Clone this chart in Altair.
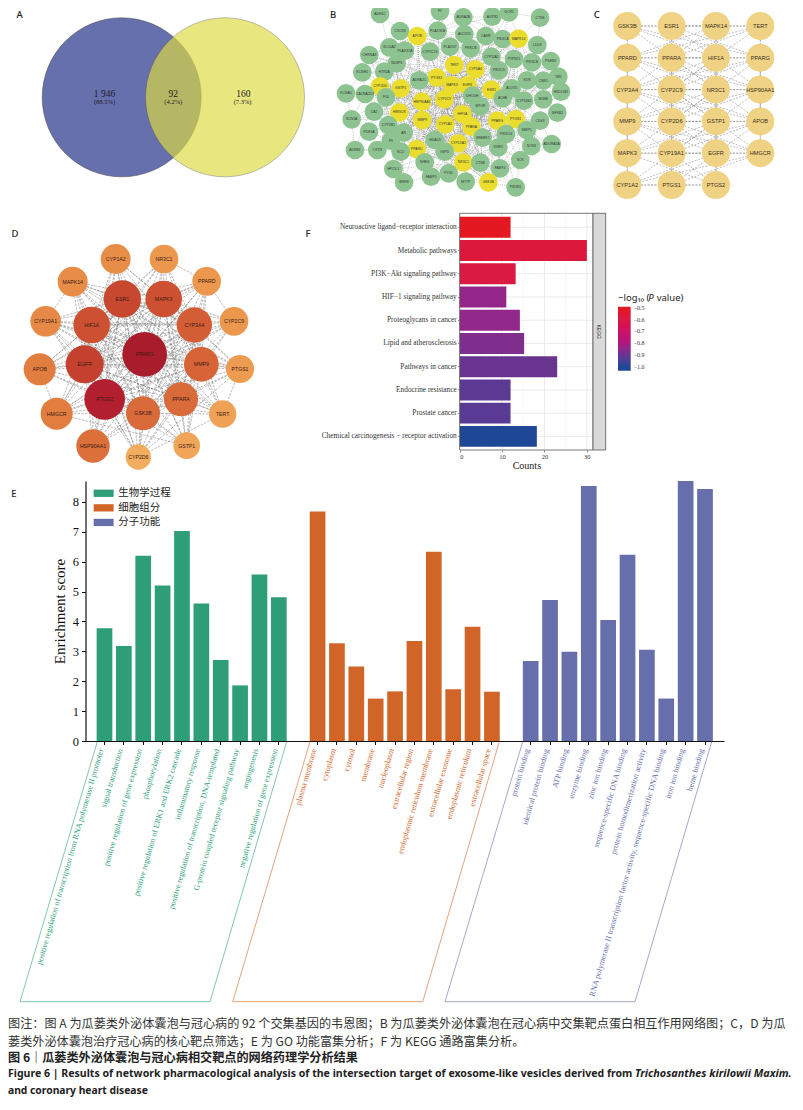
import math
import json
import altair as alt
import pandas as pd

W, H = 787, 1094
SERIF = "Liberation Serif"
SANS = "Liberation Sans"
CJK = "Noto Sans CJK SC"

# ---------- Panel A ----------
venn_x = [121.7, 225.0]
venn_y = [97.3, 97.3]
venn_labels = ["1 946", "(88.5%)", "92", "(4.2%)", "160", "(7.3%)"]
venn_lx = [104.5, 104.5, 173.3, 173.3, 243.3, 242.6]
venn_ly = [93.5, 102, 93.5, 102, 93.5, 102]
venn_fs = [9.5, 6.5, 9.5, 6.5, 9.5, 6.5]

# ---------- Panel B ----------
b_nodes = [
 ("ADH1C",150,42,0),("F2",330,34,0),("ADRA2B",400,52,0),("AGTR2",487,50,0),("GCR1",537,37,0),("CTSS",630,53,0),
 ("CXCR3",210,93,0),("APOB",262,108,1),("PLA2G1B",323,92,0),("ALOX15",403,102,0),("CASR",467,108,0),("PIK3CA",518,117,0),
 ("MAPK14",566,116,1),("LDLR",622,135,0),("SLC6A2",178,142,0),("PLA2G2A",225,152,0),("CYP2C19",300,155,0),("PLA2G7",360,140,0),
 ("PRKCB",422,145,0),("CHRNA3",118,165,0),("NLRP3",200,190,0),("CYP11A1",484,170,0),("PTPN11",552,177,0),("PIK3CB",606,187,0),
 ("PSEN2",662,183,0),("KCNH2",97,217,0),("HTR2A",163,215,0),("TERT",373,195,1),("CYP3A4",436,208,1),("PIK3CD",507,211,0),
 ("KDR",591,241,0),("CNR1",640,242,0),("TEK",685,230,0),("PTGS2",320,233,1),("ADRA2C",268,241,0),("CYP2D6",150,259,1),
 ("GSTP1",212,265,1),("MAPK3",366,256,1),("EGFR",412,256,1),("ESR1",484,269,1),("ALOX5",545,265,0),("HSD11B1",693,275,0),
 ("KCNA5",48,280,0),("CACNA2D1",105,282,0),("F10",168,292,0),("HSP90AA1",276,305,1),("CYP2C9",343,298,1),("DHODH",427,287,0),
 ("ACHE",518,295,0),("CYP11B2",582,302,0),("BCHE",640,298,0),("MTOR",451,319,0),("NFKB2",682,338,0),("CA2",132,335,0),
 ("HMGCR",208,337,1),("HIF1A",397,342,1),("MMP9",277,360,1),("PPARG",502,362,1),("PTGS1",557,357,1),("CYP1A2",346,373,1),
 ("PPARA",424,380,1),("CDK8",630,362,0),("SCN5A",65,358,0),("CYP2B1",175,375,0),("PDE5A",117,395,0),("AR",221,398,0),
 ("PIK3CG",528,402,0),("MMP1",590,390,0),("NOS3",604,438,0),("ADORA2A",665,432,0),("F9",183,422,0),("HDAC3",315,420,0),
 ("SREBF2",458,413,0),("CYP19A1",385,430,1),("IGSF2",505,442,0),("PPARD",260,447,1),("G6PD",344,455,0),("SCD",212,455,0),
 ("OXTR",142,450,0),("ADRB1",75,450,0),("SHBG",284,487,0),("NR3C1",400,487,1),("CTSB",451,488,0),("FABP4",510,505,0),
 ("SCK",571,480,0),("HPCIL1",190,507,0),("FABP3",303,530,0),("PYGL",356,520,0),("MTTP",407,545,0),("GSK3B",475,547,1),
 ("BRHS",222,547,0),("PIK3R1",557,562,0),
]

# ---------- Panel C ----------
c_cols = [627.3, 671.7, 717.0, 760.3]
c_rows = [26.0, 58.0, 90.0, 121.7, 153.3, 185.0]
c_names = [
 ["GSK3B","ESR1","MAPK14","TERT"],
 ["PPARD","PPARA","HIF1A","PPARG"],
 ["CYP3A4","CYP2C9","NR3C1","HSP90AA1"],
 ["MMP9","CYP2D6","GSTP1","APOB"],
 ["MAPK3","CYP19A1","EGFR","HMGCR"],
 ["CYP1A2","PTGS1","PTGS2",""],
]

# ---------- Panel D (name, x, y, degree) ----------
d_nodes = [
 ("CYP1A2",347,117,10.3),("NR3C1",492,117,9.6),("MAPK14",218,185,10.3),("PPARD",620,184,9.6),("ESR1",367,237,14.7),
 ("MAPK3",491,237,14.2),("CYP19A1",137,304,10.6),("HIF1A",275,315,14.2),("CYP3A4",583,315,13.4),("CYP2C9",702,304,9.6),
 ("PPARG",434,403,20),("EGFR",254,433,15.1),("MMP9",604,433,13),("APOB",119,448,11.4),("PTGS1",720,447,9.3),
 ("PPARA",543,538,12.6),("PTGS2",314,538,17),("GSK3B",429,580,12.6),("TERT",668,582,8.9),("HMGCR",170,581,11.4),
 ("HSP90AA1",279,678,12.2),("GSTP1",560,677,8.6),("CYP2D6",415,711,8),
]

# ---------- Panel E ----------
go_bp = ["positive regulation of transcription from RNA polymerase II promoter","signal transduction",
 "positive regulation of gene expression","phosphorylation","positive regulation of ERK1 and ERK2 cascade",
 "inflammatory response","positive regulation of transcription, DNA-templated",
 "G-protein coupled receptor signaling pathway","angiogenesis","negative regulation of gene expression"]
go_cc = ["plasma membrane","cytoplasm","cytosol","membrane","nucleoplasm","extracellular region",
 "endoplasmic reticulum membrane","extracellular exosome","endoplasmic reticulum","extracellular space"]
go_mf = ["protein binding","identical protein binding","ATP binding","enzyme binding","zinc ion binding",
 "sequence-specific DNA binding","protein homodimerization activity",
 "RNA polymerase II transcription factor activity, sequence-specific DNA binding","iron ion binding","heme binding"]
score_bp = [3.77,3.18,6.2,5.2,7.03,4.6,2.71,1.86,5.57,4.81]
score_cc = [7.68,3.27,2.49,1.42,1.66,3.35,6.33,1.73,3.82,1.65]
score_mf = [2.68,4.72,2.99,8.53,4.05,6.23,3.05,1.42,8.7,8.43]
groups = ["生物学过程","细胞组分","分子功能"]
group_colors = ["#2D9E78","#D16527","#666EAB"]
# outlines around the rotated labels (open at the top)
outline_x = [[97.3,20,210,286.7],[310,232.7,422.7,499.3],[522.7,445,635,711.7]]
outline_y = [741.7,1001.7,1001.7,741.7]

# ---------- Panel F ----------
kegg_terms = ["Neuroactive ligand−receptor interaction","Metabolic pathways","PI3K−Akt signaling pathway",
 "HIF−1 signaling pathway","Proteoglycans in cancer","Lipid and atherosclerosis","Pathways in cancer",
 "Endocrine resistance","Prostate cancer","Chemical carcinogenesis − receptor activation"]
kegg_counts = [12,30,13.2,11,14.2,15.2,23,12,12,18.2]
kegg_logp = [-0.5,-0.58,-0.6,-0.84,-0.845,-0.87,-0.9,-0.92,-0.925,-1.0]

# ---------- Text ----------
panel_letters = ["A","B","C","D","F","E"]
panel_lx = [19.7,333,596.7,15,308,14]
panel_ly = [15,15,15,234,234,494]
cap_lines = [
 ("图注：图 A 为瓜蒌类外泌体囊泡与冠心病的 92 个交集基因的韦恩图；B 为瓜蒌类外泌体囊泡在冠心病中交集靶点蛋白相互作用网络图；C，D 为瓜",8,1024),
 ("蒌类外泌体囊泡治疗冠心病的核心靶点筛选；E 为 GO 功能富集分析；F 为 KEGG 通路富集分析。",8,1041.5),
]
cap_bold = [("图 6｜瓜蒌类外泌体囊泡与冠心病相交靶点的网络药理学分析结果",8,1057.5)]
cap_en = [("Figure 6  |  Results of network pharmacological analysis of the intersection target of exosome-like vesicles derived from",8,1074,"normal",10.55),
          ("Trichosanthes kirilowii Maxim.",635,1074,"italic",10.85),
          ("and coronary heart disease",8,1091,"normal",10.3)]


def px():
    """x/y scales whose domain is the picture's own pixel grid."""
    return (alt.Scale(domain=[0, 803], range=[-8, 795]),
            alt.Scale(domain=[1110, 0], range=[H + 8, -8]))


def xy(xf="x", yf="y"):
    sx, sy = px()
    return dict(x=alt.X(f"{xf}:Q", scale=sx, axis=None), y=alt.Y(f"{yf}:Q", scale=sy, axis=None))


def texts(df, **mk):
    return alt.Chart(pd.DataFrame(df)).mark_text(**mk).encode(**xy(), text="t:N")


layers = []

# Panel A
layers.append(alt.Chart(pd.DataFrame({"x": venn_x[:1], "y": venn_y[:1]})).mark_circle(
    size=(2 * 79.5) ** 2, color="#6670AC", opacity=1, stroke="#444", strokeWidth=0.5).encode(**xy()))
layers.append(alt.Chart(pd.DataFrame({"x": venn_x[1:], "y": venn_y[1:]})).mark_circle(
    size=(2 * 79.5) ** 2, color="#DEDA41", opacity=0.67, stroke="#444", strokeWidth=0.5).encode(**xy()))
for fs in sorted(set(venn_fs)):
    rows = [(t, a, b) for t, a, b, f in zip(venn_labels, venn_lx, venn_ly, venn_fs) if f == fs]
    layers.append(texts({"t": [r[0] for r in rows], "x": [r[1] for r in rows], "y": [r[2] for r in rows]},
                        font=SERIF, fontSize=fs, color="#1c1c2c", baseline="middle"))


def net_scales(dom_x, rng_x, dom_y, rng_y):
    return alt.Scale(domain=dom_x, range=rng_x), alt.Scale(domain=dom_y, range=rng_y)


def edge_layer(edges, sx, sy, **mk):
    return alt.Chart(pd.DataFrame(edges, columns=["x", "y", "x2", "y2"])).mark_rule(**mk).encode(
        x=alt.X("x:Q", scale=sx, axis=None), y=alt.Y("y:Q", scale=sy, axis=None),
        x2="x2:Q", y2="y2:Q")


# Panel B
sbx, sby = net_scales([0, 720], [322, 562], [0, 600], [-8, 192])
b_edges = []
for i, a in enumerate(b_nodes):
    for j, b in enumerate(b_nodes):
        if j <= i:
            continue
        d = math.hypot(a[1] - b[1], a[2] - b[2])
        hub = a[3] + b[3]
        if d < 95 or (hub == 2 and d < 340) or (hub == 1 and d < 240 and (i + j) % 2 == 0):
            b_edges.append((a[1], a[2], b[1], b[2]))
layers.append(edge_layer(b_edges, sbx, sby, color="#777", strokeWidth=0.4, strokeDash=[1, 1]))
bdf = pd.DataFrame(b_nodes, columns=["t", "x", "y", "core"])
layers.append(alt.Chart(bdf).mark_circle(size=350, opacity=1).encode(
    x=alt.X("x:Q", scale=sbx, axis=None), y=alt.Y("y:Q", scale=sby, axis=None),
    color=alt.Color("core:N", scale=alt.Scale(domain=[0, 1], range=["#8CC391", "#EADD2E"]), legend=None)))
layers.append(alt.Chart(bdf).mark_text(font=SANS, fontSize=3.4, color="#333").encode(
    x=alt.X("x:Q", scale=sbx, axis=None), y=alt.Y("y:Q", scale=sby, axis=None), text="t:N"))

# Panel C
scx = alt.Scale(domain=[0, 3], range=[c_cols[0] - 8, c_cols[3] - 8])
scy = alt.Scale(domain=[0, 5], range=[c_rows[0] - 8, c_rows[5] - 8])
c_df = pd.DataFrame([{"t": n, "col": c, "row": r} for r, row in enumerate(c_names) for c, n in enumerate(row) if n])
c_edges = []
cl = c_df.to_dict("records")
for i, a in enumerate(cl):
    for j, b in enumerate(cl):
        if j <= i:
            continue
        dc, dr = abs(a["col"] - b["col"]), abs(a["row"] - b["row"])
        if dc + dr == 1 or (dc <= 2 and dr <= 2 and (i + j) % 2 == 0) or (dc == 3 and dr == 1):
            c_edges.append((a["col"], a["row"], b["col"], b["row"]))
layers.append(edge_layer(c_edges, scx, scy, color="#888", strokeWidth=0.55, strokeDash=[2, 1.4]))
layers.append(alt.Chart(c_df).mark_circle(size=784, color="#EFD283", opacity=1).encode(
    x=alt.X("col:Q", scale=scx, axis=None), y=alt.Y("row:Q", scale=scy, axis=None)))
layers.append(alt.Chart(c_df).mark_text(font=SANS, fontSize=5.6, color="#3a3020").encode(
    x=alt.X("col:Q", scale=scx, axis=None), y=alt.Y("row:Q", scale=scy, axis=None), text="t:N"))

# Panel D
sdx, sdy = net_scales([0, 810], [-8, 262], [0, 780], [212, 472])
d_edges = []
for i, a in enumerate(d_nodes):
    for j, b in enumerate(d_nodes):
        if j <= i:
            continue
        if a[3] >= 12.6 or b[3] >= 12.6 or (i + j) % 4 == 0:
            d_edges.append((a[1], a[2], b[1], b[2]))
layers.append(edge_layer(d_edges, sdx, sdy, color="#777", strokeWidth=0.5, strokeDash=[2.5, 1.2]))
ddf = pd.DataFrame(d_nodes, columns=["t", "x", "y", "deg"])
layers.append(alt.Chart(ddf).mark_circle(opacity=1).encode(
    x=alt.X("x:Q", scale=sdx, axis=None), y=alt.Y("y:Q", scale=sdy, axis=None),
    size=alt.Size("deg:Q", scale=alt.Scale(domain=[8, 20], range=[642, 1995], zero=False), legend=None),
    color=alt.Color("deg:Q", scale=alt.Scale(domain=[8, 11.4, 14.7, 17, 20],
                    range=["#F3AD5E", "#E27D40", "#C8472F", "#B21F2E", "#A81C2B"]), legend=None)))
layers.append(alt.Chart(ddf).mark_text(font=SANS, fontSize=5.2, color="#3a1c14").encode(
    x=alt.X("x:Q", scale=sdx, axis=None), y=alt.Y("y:Q", scale=sdy, axis=None), text="t:N"))

# Panel E
e_domain = go_bp + [" "] + go_cc + ["  "] + go_mf
e_df = pd.DataFrame({"term": go_bp + go_cc + go_mf, "score": score_bp + score_cc + score_mf,
                     "group": [groups[0]] * 10 + [groups[1]] * 10 + [groups[2]] * 10})
label_color = {"condition": [
    {"test": "indexof(%s, datum.value) >= 0" % json.dumps(go_bp), "value": group_colors[0]},
    {"test": "indexof(%s, datum.value) >= 0" % json.dumps(go_cc), "value": group_colors[1]}],
    "value": group_colors[2]}
layers.append(alt.Chart(e_df).mark_bar().encode(
    x=alt.X("term:N", sort=e_domain,
            scale=alt.Scale(domain=e_domain, range=[77.5, 716], paddingInner=0.19, paddingOuter=0.575),
            axis=alt.Axis(orient="bottom", offset=-(H - 733), title=None, values=go_bp + go_cc + go_mf,
                          labelAngle=-74, labelAlign="right", labelBaseline="middle", labelFont=SERIF,
                          labelFontSize=8, labelLimit=1000, labelOverlap=False, labelPadding=4, labelOffset=-3,
                          labelColor=label_color, tickSize=3.5, tickColor="#111", tickWidth=1,
                          domainColor="#111", domainWidth=1.2, grid=False)),
    y=alt.Y("score:Q", scale=alt.Scale(domain=[0, 8.7], range=[733, 473], nice=False),
            axis=alt.Axis(orient="left", offset=-77.5, title="Enrichment score", titleFont=SERIF,
                          titleFontSize=15, titleFontWeight="normal", titleColor="#111", titlePadding=5,
                          values=list(range(9)), format="d", labelFont=SERIF, labelFontSize=12.5,
                          labelColor="#111", tickSize=4, tickColor="#111", tickWidth=1, domainColor="#111",
                          domainWidth=1.2, grid=False, labelPadding=3)),
    color=alt.Color("group:N", sort=groups, scale=alt.Scale(domain=groups, range=group_colors),
                    legend=alt.Legend(orient="none", legendX=90.4, legendY=480, title=None, labelFont=CJK,
                                      labelFontSize=10.5, labelColor="#222", padding=0,
                                      symbolType="M-2.74,-1H2.74V1H-2.74Z", symbolSize=53,
                                      symbolStrokeWidth=0, labelOffset=9.3, rowPadding=3.6))))
for k in range(3):
    layers.append(alt.Chart(pd.DataFrame({"x": outline_x[k], "y": outline_y, "o": [0, 1, 2, 3]})).mark_line(
        color=group_colors[k], strokeWidth=0.8, opacity=0.75).encode(**xy(), order="o:Q"))

# Panel F
fx = alt.Scale(domain=[0, 31.45], range=[451.7, 585], nice=False, zero=False)
fy = alt.Scale(domain=kegg_terms, range=[207.7, 440], paddingInner=0.1, paddingOuter=0.05)
fyq = alt.Scale(domain=[0, 1], range=[442, 205.3])
f_df = pd.DataFrame({"term": kegg_terms, "count": kegg_counts, "logp": kegg_logp, "x0": 0, "x1": 31.45})
layers.append(alt.Chart(pd.DataFrame({"x": [0, 10, 20, 30], "y0": 0, "y1": 1})).mark_rule(
    color="#E6E6E6", strokeWidth=0.8).encode(
    x=alt.X("x:Q", scale=fx, axis=None), y=alt.Y("y0:Q", scale=fyq, axis=None), y2="y1:Q"))
layers.append(alt.Chart(pd.DataFrame({"x": [5, 15, 25], "y0": 0, "y1": 1})).mark_rule(
    color="#F0F0F0", strokeWidth=0.5).encode(
    x=alt.X("x:Q", scale=fx, axis=None), y=alt.Y("y0:Q", scale=fyq, axis=None), y2="y1:Q"))
layers.append(alt.Chart(f_df).mark_rule(color="#E6E6E6", strokeWidth=0.8).encode(
    y=alt.Y("term:N", sort=kegg_terms, scale=fy, axis=None),
    x=alt.X("x0:Q", scale=fx, axis=None), x2="x1:Q"))
layers.append(alt.Chart(f_df).mark_bar().encode(
    y=alt.Y("term:N", sort=kegg_terms, scale=fy,
            axis=alt.Axis(orient="left", offset=-451.7, title=None, labelFont=SERIF, labelFontSize=7.3,
                          labelColor="#333", labelLimit=400, tickSize=2, tickColor="#555", tickWidth=0.7,
                          domain=False, grid=False, labelPadding=1.5)),
    x=alt.X("count:Q", scale=fx,
            axis=alt.Axis(orient="bottom", offset=-(H - 442), values=[0, 10, 20, 30], format="d",
                          title="Counts", titleFont=SERIF, titleFontSize=10, titleFontWeight="normal",
                          titleColor="#222", titlePadding=0.5, labelFont=SERIF, labelFontSize=6.5, labelColor="#333",
                          tickSize=2, tickColor="#555", tickWidth=0.7, domain=False, grid=False, labelPadding=1)),
    color=alt.Color("logp:Q",
                    scale=alt.Scale(domain=[-1.034, -1.0, -0.9, -0.8, -0.7, -0.6, -0.489],
                                    range=["#1E4796", "#1E4796", "#683490", "#AF187E", "#CC1466", "#DA1A42", "#E41A1C"]),
                    legend=alt.Legend(orient="none", legendX=610, legendY=298.7, title=None, padding=0,
                                      gradientLength=64, gradientThickness=12.7, values=[-0.5, -0.6, -0.7, -0.8, -0.9, -1.0],
                                      format=".1f", labelFont=SERIF, labelFontSize=6, labelColor="#333",
                                      labelOffset=3, labelOverlap=False))))
panel_box = pd.DataFrame({"x": [459.7, 593.0], "x2": [593.0, 605.7], "y": [213.3, 213.3], "y2": [450, 450],
                          "k": ["panel", "strip"]})
layers.append(alt.Chart(panel_box).mark_rect(stroke="#555", strokeWidth=0.8).encode(
    **xy(), x2="x2:Q", y2="y2:Q",
    fill=alt.Fill("k:N", scale=alt.Scale(domain=["panel", "strip"], range=["transparent", "#D9D9D9"]), legend=None)))
layers.append(texts({"t": ["KEGG"], "x": [599.3], "y": [331.7]}, font=SANS, fontSize=5, color="#333", angle=90))
layers.append(texts({"t": ["−log₁₀ ("], "x": [618], "y": [297.7]}, font="Noto Sans", fontSize=9.5, color="#222",
                    align="left", baseline="middle"))
layers.append(texts({"t": ["P"], "x": [648.3], "y": [297.7]}, font="Noto Sans", fontSize=9.5, fontStyle="italic",
                    color="#222", align="left", baseline="middle"))
layers.append(texts({"t": ["value)"], "x": [656.7], "y": [297.7]}, font="Noto Sans", fontSize=9.5, color="#222",
                    align="left", baseline="middle"))

# Panel letters
layers.append(texts({"t": panel_letters, "x": panel_lx, "y": panel_ly}, font="Noto Sans", fontSize=9.5,
                    fontWeight=500, color="#222", baseline="middle"))

# Caption
layers.append(texts({"t": [c[0] for c in cap_lines], "x": [c[1] for c in cap_lines], "y": [c[2] for c in cap_lines]},
                    font=CJK, fontSize=12.15, color="#333", align="left", baseline="middle"))
layers.append(texts({"t": [c[0] for c in cap_bold], "x": [c[1] for c in cap_bold], "y": [c[2] for c in cap_bold]},
                    font=CJK, fontSize=12.15, fontWeight="bold", color="#222", align="left", baseline="middle"))
for t, x_, y_, st, fs_ in cap_en:
    layers.append(texts({"t": [t], "x": [x_], "y": [y_]}, font="Noto Sans", fontSize=fs_, fontWeight="bold",
                        fontStyle=st, color="#222", align="left", baseline="middle"))

chart = (alt.layer(*layers)
         .resolve_scale(x="independent", y="independent", color="independent", size="independent", fill="independent")
         .resolve_axis(x="independent", y="independent")
         .resolve_legend(color="independent")
         .properties(width=W, height=H, padding=0, background="white",
                     autosize=alt.AutoSizeParams(type="none"))
         .configure_view(stroke=None))

chart.save("out.html", embed_options={"renderer": "svg", "actions": False})
